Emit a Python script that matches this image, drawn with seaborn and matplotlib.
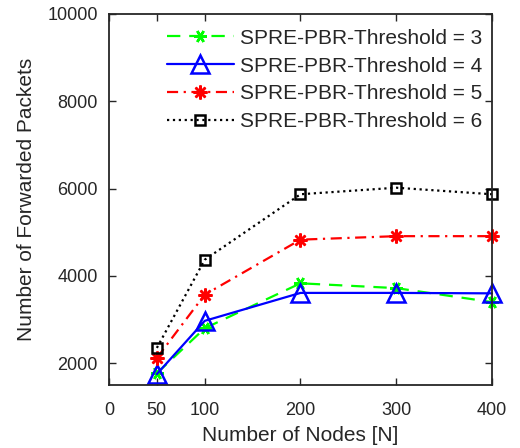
import seaborn as sns
import numpy as np
import pandas as pd
import matplotlib
matplotlib.use('Agg')
import matplotlib.pyplot as plt

nodes = [50, 100, 200, 300, 400]
thr3 = [1770, 2800, 3830, 3720, 3400]
thr4 = [1750, 2970, 3610, 3610, 3600]
thr5 = [2120, 3570, 4830, 4910, 4910]
thr6 = [2350, 4370, 5870, 6020, 5870]

labels = ['SPRE-PBR-Threshold = 3', 'SPRE-PBR-Threshold = 4',
          'SPRE-PBR-Threshold = 5', 'SPRE-PBR-Threshold = 6']
xticks = [0, 50, 100, 200, 300, 400]
yticks = [2000, 4000, 6000, 8000, 10000]


def setup_style():
    sns.set_theme(style="ticks")
    plt.rcParams['font.family'] = ['Liberation Sans', 'DejaVu Sans']
    plt.rcParams.update({
        'axes.edgecolor': '#262626',
        'axes.linewidth': 1.3,
        'xtick.direction': 'in',
        'ytick.direction': 'in',
        'xtick.top': True,
        'ytick.right': True,
        'xtick.major.size': 5,
        'ytick.major.size': 5,
        'xtick.major.width': 1.0,
        'ytick.major.width': 1.0,
        'xtick.color': '#262626',
        'ytick.color': '#262626',
        'xtick.labelsize': 13,
        'ytick.labelsize': 13,
        'axes.labelsize': 15,
        'axes.labelcolor': '#262626',
    })


def main():
    setup_style()

    fig = plt.figure(figsize=(5.2, 4.48), dpi=100)
    ax = fig.add_axes([0.2096, 0.1406, 0.7365, 0.8282])

    styles = [
        (thr3, '#00ff00', (0, (6, 4)), (6, 2, 90), 9),
        (thr4, '#0000ff', '-', '^', 13),
        (thr5, '#ff0000', (0, (5, 2.5, 1, 2.5)), (8, 2, 0), 10),
        (thr6, '#000000', ':', 's', 7),
    ]
    for (vals, color, ls, marker, ms), label in zip(styles, labels):
        df = pd.DataFrame({'nodes': nodes, 'packets': vals})
        sns.lineplot(data=df, x='nodes', y='packets', ax=ax, color=color,
                     linestyle=ls, marker=marker, markersize=ms,
                     markerfacecolor='none', markeredgecolor=color,
                     markeredgewidth=1.8, linewidth=1.6, label=label,
                     clip_on=False)

    ax.set_xlim(0, 400)
    ax.set_ylim(1500, 10000)
    ax.set_xticks(xticks)
    ax.set_yticks(yticks)
    ax.tick_params(axis='x', pad=12)
    ax.tick_params(axis='y', pad=8)
    ax.set_xlabel('Number of Nodes [N]', labelpad=5)
    ax.set_ylabel('Number of Forwarded Packets', labelpad=8)

    ax.legend(loc='upper right', bbox_to_anchor=(1.018, 1.005),
              frameon=False, fontsize=15,
              handlelength=3.2, handletextpad=0.3, labelspacing=0.42,
              borderaxespad=0.5, borderpad=0.3)

    plt.savefig('out.png', dpi=100)


if __name__ == '__main__':
    main()
